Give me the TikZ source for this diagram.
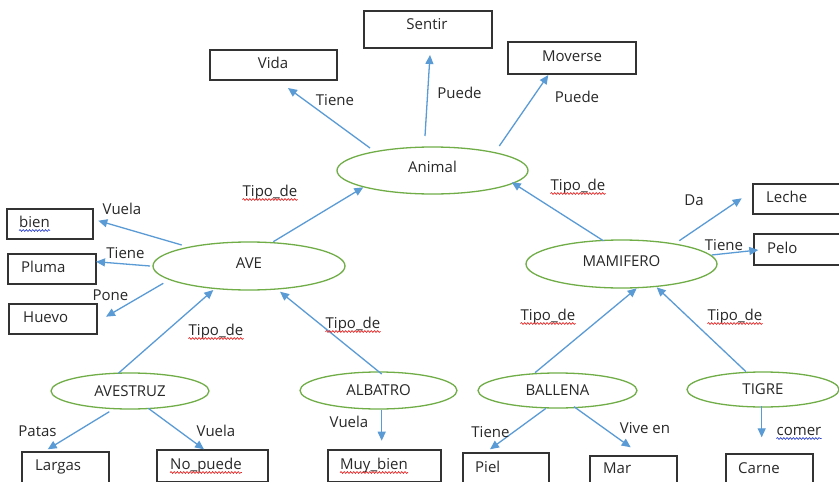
\documentclass[tikz,border=0pt]{standalone}
\usepackage{fontspec}
\setmainfont{Open Sans}
\usetikzlibrary{shapes.geometric,arrows.meta,calc,decorations.pathmorphing}
\definecolor{arrblue}{RGB}{91,155,213}
\definecolor{ellgreen}{RGB}{112,173,71}
\definecolor{txtgray}{RGB}{40,40,40}
\definecolor{sqred}{RGB}{225,40,40}
\definecolor{sqblue}{RGB}{50,70,200}
\tikzset{
  ell/.style={ellipse, draw=ellgreen, line width=1.3pt, inner sep=0pt, text=txtgray,
    font=\fontsize{15}{18}\selectfont},
  raised/.style={text height=11pt, text depth=7pt},
  box/.style={rectangle, draw=black!80, line width=1.3pt, inner sep=0pt},
  txt/.style={inner sep=0pt, text=txtgray, font=\fontsize{15}{18}\selectfont},
  arr/.style={draw=arrblue, line width=1.3pt, -{Triangle[length=9pt,width=8pt]}},
  squig/.style={draw=#1, line width=0.7pt, decorate,
    decoration={snake, amplitude=0.9pt, segment length=3.2pt}}
}
\begin{document}
\begin{tikzpicture}[x=1pt,y=-1pt]
\useasboundingbox (0,0) rectangle (839,482);
\clip (0,0) rectangle (839,482);
\fill[white] (0,0) rectangle (839,482);

% ellipses
\node[ell, raised, minimum width=191pt, minimum height=47pt] (animal) at (432.5,170.5) {Animal};
\node[ell, raised, minimum width=192pt, minimum height=48pt] (ave) at (249,266) {AVE};
\node[ell, raised, minimum width=191pt, minimum height=48pt] (mamifero) at (621.5,264) {MAMIFERO};
\node[ell, minimum width=158pt, minimum height=36pt] (avestruz) at (130,391) {AVESTRUZ};
\node[ell, minimum width=157pt, minimum height=37pt] (albatro) at (378.5,390.5) {ALBATRO};
\node[ell, minimum width=159pt, minimum height=35pt] (ballena) at (557.5,390.5) {BALLENA};
\node[ell, minimum width=152pt, minimum height=35pt] (tigre) at (763,389.5) {TIGRE};

% boxes
\node[box, minimum width=128pt, minimum height=37pt] (sentir) at (428,29.5) {};
\node[box, minimum width=127pt, minimum height=30pt] (vida) at (273.5,65) {};
\node[box, minimum width=128pt, minimum height=32pt] (moverse) at (572,58) {};
\node[box, minimum width=86pt, minimum height=30pt] (bien) at (50,224) {};
\node[box, minimum width=88pt, minimum height=30pt] (pluma) at (52,269) {};
\node[box, minimum width=88pt, minimum height=30pt] (huevo) at (53,319) {};
\node[box, minimum width=88pt, minimum height=30pt] (leche) at (797,199) {};
\node[box, minimum width=88pt, minimum height=31pt] (pelo) at (798,249.5) {};
\node[box, minimum width=87pt, minimum height=32pt] (largas) at (65.5,468) {};
\node[box, minimum width=111pt, minimum height=32pt] (nopuede) at (212.5,466) {};
\node[box, minimum width=113pt, minimum height=32pt] (muybien) at (384.5,466) {};
\node[box, minimum width=86pt, minimum height=32pt] (piel) at (506,469) {};
\node[box, minimum width=87pt, minimum height=32pt] (mar) at (633.5,472) {};
\node[box, minimum width=87pt, minimum height=32pt] (carne) at (769.5,470) {};

% box texts
\node[txt, anchor=base] (tsentir) at (427,29) {Sentir};
\node[txt, anchor=base] (tvida) at (273,68) {Vida};
\node[txt, anchor=base] (tmoverse) at (572,61) {Moverse};
\node[txt, anchor=base west] (tbien) at (19,227) {bien};
\node[txt, anchor=base west] (tpluma) at (21,272) {Pluma};
\node[txt, anchor=base west] (thuevo) at (23,322) {Huevo};
\node[txt, anchor=base west] (tleche) at (766,202) {Leche};
\node[txt, anchor=base west] (tpelo) at (767,253) {Pelo};
\node[txt, anchor=base west] (tlargas) at (35,470) {Largas};
\node[txt, anchor=base west] (tnopuede) at (170,469) {No\_puede};
\node[txt, anchor=base west] (tmuybien) at (340,469) {Muy\_bien};
\node[txt, anchor=base west] (tpiel) at (475,472) {Piel};
\node[txt, anchor=base west] (tmar) at (603,473) {Mar};
\node[txt, anchor=base west] (tcarne) at (738,473) {Carne};

% connectors
\draw[arr] ($(animal.center)+(-62.5,-22.5)$) -- ($(vida.center)+(14.5,23)$);
\draw[arr] ($(animal.center)+(-7.5,-34.5)$) -- ($(sentir.center)+(2,25.5)$);
\draw[arr] ($(animal.center)+(66.8,-24.5)$) -- ($(moverse.center)+(-23.7,17)$);
\draw[arr] ($(ave.center)+(24.3,-24.3)$) -- ($(animal.center)+(-69.2,16.8)$);
\draw[arr] ($(mamifero.center)+(-18.2,-23.3)$) -- ($(animal.center)+(79.2,11.7)$);
\draw[arr] ($(ave.center)+(-67.3,-21)$) -- ($(bien.center)+(48.3,-3.3)$);
\draw[arr] ($(ave.center)+(-99,0)$) -- ($(pluma.center)+(44,-7.3)$);
\draw[arr] ($(ave.center)+(-85.7,17.3)$) -- ($(huevo.center)+(53,-2.3)$);
\draw[arr] ($(avestruz.center)+(-11.7,-17.7)$) -- ($(ave.center)+(-35.7,24)$);
\draw[arr] ($(albatro.center)+(3.2,-16.5)$) -- ($(ave.center)+(31,25.7)$);
\draw[arr] ($(ballena.center)+(-22.5,-17.8)$) -- ($(mamifero.center)+(15.2,24.3)$);
\draw[arr] ($(tigre.center)+(-17,-17.8)$) -- ($(mamifero.center)+(35.2,23.3)$);
\draw[arr] ($(mamifero.center)+(57.8,-23.3)$) -- ($(leche.center)+(-55.3,-0.7)$);
\draw[arr] ($(mamifero.center)+(90.2,-9)$) -- ($(pelo.center)+(-39.7,0.5)$);
\draw[arr] ($(avestruz.center)+(-20.7,20.7)$) -- ($(largas.center)+(-17.8,-18.7)$);
\draw[arr] ($(avestruz.center)+(18.3,17.3)$) -- ($(nopuede.center)+(-8.5,-16.7)$);
\draw[arr] ($(albatro.center)+(3.2,19.5)$) -- ($(muybien.center)+(-2.8,-25.3)$);
\draw[arr] ($(ballena.center)+(-11.5,17.8)$) -- ($(piel.center)+(-16,-19.7)$);
\draw[arr] ($(ballena.center)+(16.5,16.2)$) -- ($(mar.center)+(-2.8,-24.7)$);
\draw[arr] ($(tigre.center)+(-1.3,16.5)$) -- ($(carne.center)+(-7.8,-32.7)$);

% connector labels
\node[txt, anchor=base] (l1) at (335,105) {Tiene};
\node[txt, anchor=base] (l2) at (459.5,98) {Puede};
\node[txt, anchor=base] (l3) at (577,102) {Puede};
\node[txt, anchor=base] (l4) at (270,196) {Tipo\_de};
\node[txt, anchor=base] (l5) at (578,190) {Tipo\_de};
\node[txt, anchor=base] (l6) at (122,214) {Vuela};
\node[txt, anchor=base] (l7) at (125.5,258) {Tiene};
\node[txt, anchor=base] (l8) at (110.5,300) {Pone};
\node[txt, anchor=base] (l9) at (216,335) {Tipo\_de};
\node[txt, anchor=base] (l10) at (353,328) {Tipo\_de};
\node[txt, anchor=base] (l11) at (694,205) {Da};
\node[txt, anchor=base] (l12) at (724,250) {Tiene};
\node[txt, anchor=base] (l13) at (548,320) {Tipo\_de};
\node[txt, anchor=base] (l14) at (735,320) {Tipo\_de};
\node[txt, anchor=base] (l15) at (37.5,436) {Patas};
\node[txt, anchor=base] (l16) at (216,436) {Vuela};
\node[txt, anchor=base] (l17) at (349,427) {Vuela};
\node[txt, anchor=base] (l18) at (490.5,437) {Tiene};
\node[txt, anchor=base] (l19) at (645,433) {Vive en};
\node[txt, anchor=base] (l20) at (799,435) {comer};

% spell-check underlines
\foreach \n in {l4,l5,l9,l10,l13,l14,tnopuede,tmuybien}
  \draw[squig=sqred] ([yshift=-3.5pt]\n.base west) -- ([yshift=-3.5pt]\n.base east);
\foreach \n in {tbien,l20}
  \draw[squig=sqblue] ([yshift=-3.5pt]\n.base west) -- ([yshift=-3.5pt]\n.base east);
\end{tikzpicture}
\end{document}
